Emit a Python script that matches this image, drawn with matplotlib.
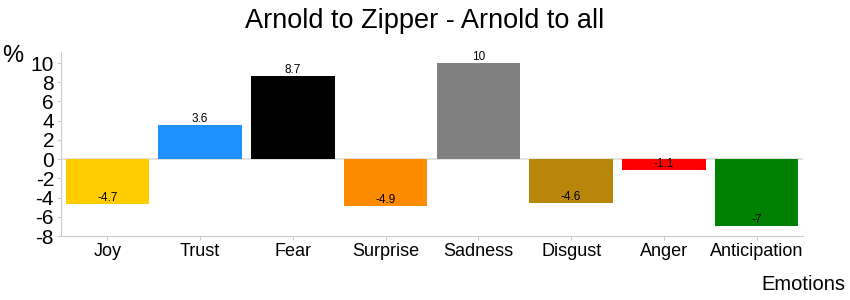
import matplotlib
matplotlib.use("Agg")
import matplotlib.pyplot as plt

plt.rcParams["font.family"] = ["Liberation Sans", "DejaVu Sans"]

emotions = ["Joy", "Trust", "Fear", "Surprise", "Sadness", "Disgust", "Anger", "Anticipation"]
values = [-4.7, 3.6, 8.7, -4.9, 10, -4.6, -1.1, -7]
labels = ["-4.7", "3.6", "8.7", "-4.9", "10", "-4.6", "-1.1", "-7"]
colors = ["#FFCC00", "#1E90FF", "#000000", "#FF8C00", "#808080", "#B8860B", "#FF0000", "#008000"]
yticks = [-8, -6, -4, -2, 0, 2, 4, 6, 8, 10]

fig = plt.figure(figsize=(8.5, 3.0), dpi=100)
ax = fig.add_axes([0.0718, 0.2133, 0.8729, 0.6134])

x = list(range(len(emotions)))
ax.axhline(0, color="#dddddd", linewidth=1.2, zorder=0)
ax.bar(x, values, width=0.9, color=colors, zorder=2)
for xi, v, lab in zip(x, values, labels):
    ax.text(xi, v, lab, ha="center", va="bottom", fontsize=8.5, zorder=3)

ax.set_xlim(-0.5, 7.5)
ax.set_ylim(-8, 11.15)
ax.set_yticks(yticks)
ax.set_yticklabels([str(t) for t in yticks], fontsize=15)
ax.set_xticks(x)
ax.set_xticklabels(emotions, fontsize=13)

for side in ["top", "right"]:
    ax.spines[side].set_visible(False)
for side in ["left", "bottom"]:
    ax.spines[side].set_color("#cccccc")
ax.tick_params(axis="both", color="#cccccc", length=3, pad=2)

fig.text(0.5, 0.93, "Arnold to Zipper - Arnold to all", ha="center", va="center", fontsize=19.5)
fig.text(0.003, 0.815, "%", ha="left", va="center", fontsize=17)
fig.text(0.995, 0.053, "Emotions", ha="right", va="center", fontsize=14.5)

fig.savefig("out.png", dpi=100)
